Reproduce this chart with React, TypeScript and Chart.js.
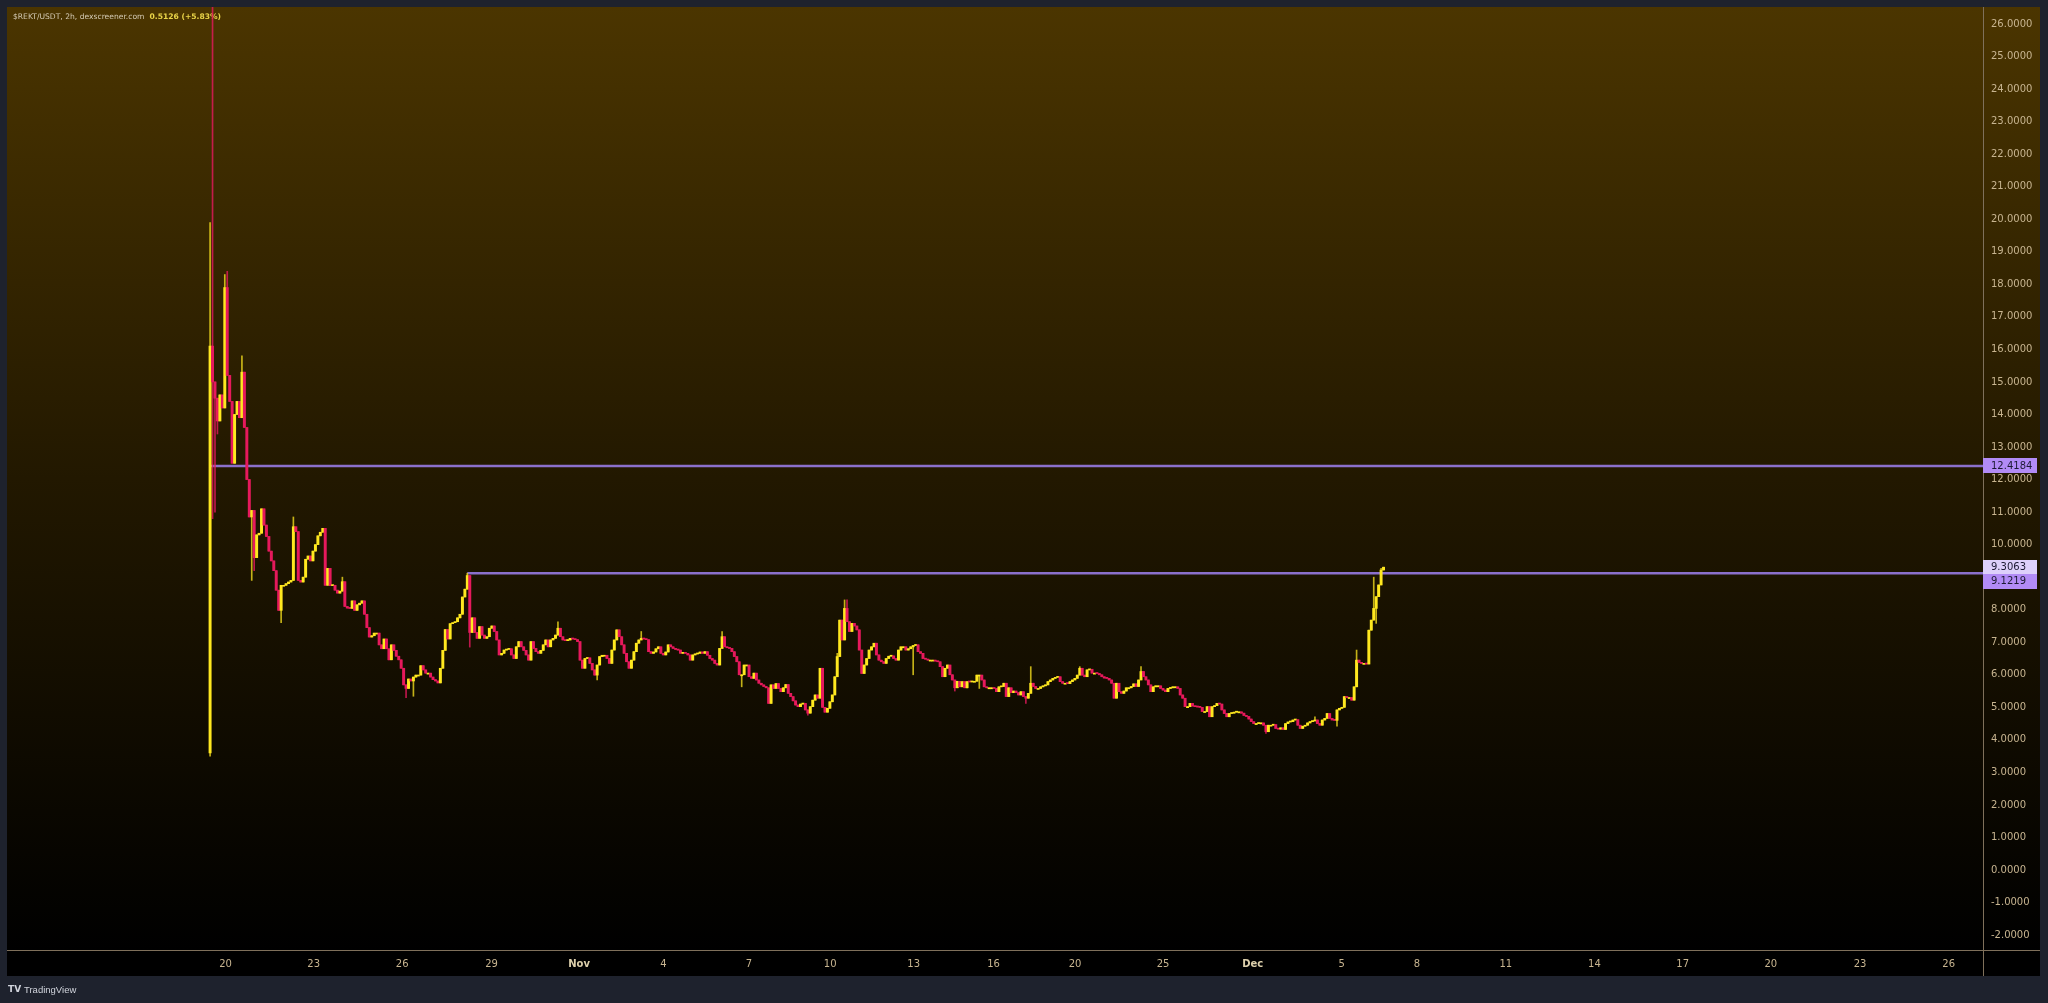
import React, { useEffect, useRef } from "react";
import { Chart, registerables } from "chart.js";

Chart.register(...registerables);

// ---------------- DATA ----------------
const FIRST_OPEN = 3.6;

// closes per 2h candle (bar index 0..105)
const closesOct = [
  16.1, 15.0, 14.5, 13.8, 14.6, 14.2, 17.9, 15.2, 14.4, 12.5,
  14.0, 14.4, 13.9, 15.3, 13.6, 12.0, 10.85, 11.05, 9.6, 10.3,
  10.35, 11.1, 10.6, 10.25, 9.8, 9.5, 9.2, 8.6, 7.98, 8.75,
  8.75, 8.8, 8.85, 8.9, 10.55, 10.4, 8.9, 8.85, 9.0, 9.55,
  9.65, 9.5, 9.8, 10.0, 10.27, 10.38, 10.5, 8.75, 9.27, 8.74,
  8.75, 8.6, 8.51, 8.57, 8.86, 8.1, 8.05, 8.04, 8.27, 7.98,
  8.15, 8.2, 8.27, 7.86, 7.45, 7.16, 7.2, 7.28, 7.28, 6.92,
  6.8, 7.1, 6.8, 6.46, 6.92, 6.75, 6.57, 6.46, 6.2, 5.69,
  5.58, 5.87, 5.81, 5.93, 5.99, 5.99, 6.28, 6.15, 6.05, 6.05,
  5.93, 5.85, 5.81, 5.75, 6.2, 6.75, 7.39, 7.1, 7.57, 7.6,
  7.63, 7.75, 7.86, 8.39, 8.63, 9.05,
];

// bar index 106..265
const closesNovA = [
  7.3, 7.75, 7.3, 7.12,
  7.48, 7.22, 7.12, 7.17, 7.43, 7.5, 7.33, 7.07, 6.61, 6.66,
  6.76, 6.78, 6.8, 6.61, 6.5, 6.86, 7.02, 6.86, 6.75, 6.61,
  6.45, 7.02, 6.81, 6.71, 6.66, 6.75, 6.92, 7.07, 6.86, 7.07,
  7.12, 7.22, 7.43, 7.17, 7.07, 7.05, 7.07, 7.12, 7.1, 7.08,
  7.02, 6.45, 6.2, 6.5, 6.52, 6.35, 6.15, 5.99, 6.3, 6.56,
  6.6, 6.6, 6.5, 6.35, 6.76, 7.07, 7.38, 7.17, 6.92, 6.66,
  6.4, 6.2, 6.45, 6.71, 6.97, 7.07, 7.12, 7.1, 7.08, 6.71,
  6.66, 6.7, 6.8, 6.86, 6.66, 6.61, 6.7, 6.92, 6.86, 6.81,
  6.78, 6.76, 6.66, 6.68, 6.66, 6.61, 6.45, 6.61, 6.64, 6.66,
  6.7, 6.66, 6.71, 6.6, 6.5, 6.45, 6.35, 6.3, 6.81, 7.17,
  6.86, 6.83, 6.81, 6.71, 6.56, 6.4, 6.0, 6.0, 6.3, 6.3,
  5.94, 5.89, 6.05, 5.84, 5.74, 5.69, 5.64, 5.6, 5.12, 5.69,
  5.58, 5.73, 5.58, 5.48, 5.6, 5.7, 5.43, 5.33, 5.2, 5.07,
  5.02, 5.1, 5.12, 4.92, 4.82, 5.02, 5.22, 5.38, 5.28, 6.2,
  5.0, 4.85, 4.97, 5.17, 5.38, 5.94, 6.56, 7.68, 7.07, 8.04,
  7.63, 7.33, 7.58, 7.5, 7.38, 6.76,
];

// bar index 266..420
const closesNovB = [
  6.04, 6.3, 6.5, 6.76,
  6.86, 6.97, 6.61, 6.45, 6.4, 6.35, 6.5, 6.57, 6.58, 6.5,
  6.45, 6.76, 6.86, 6.86, 6.76, 6.8, 6.86, 6.9, 6.92, 6.71,
  6.66, 6.5, 6.48, 6.45, 6.45, 6.45, 6.42, 6.4, 6.25, 5.94,
  6.2, 6.3, 6.0, 5.84, 5.6, 5.8, 5.63, 5.79, 5.6, 5.79,
  5.78, 5.8, 5.8, 5.99, 5.99, 5.84, 5.63, 5.6, 5.6, 5.6,
  5.58, 5.48, 5.63, 5.64, 5.74, 5.33, 5.6, 5.45, 5.5, 5.45,
  5.38, 5.48, 5.33, 5.28, 5.43, 5.74, 5.64, 5.58, 5.58, 5.63,
  5.66, 5.69, 5.79, 5.84, 5.89, 5.92, 5.94, 5.79, 5.74, 5.74,
  5.73, 5.79, 5.84, 5.89, 5.99, 6.2, 5.99, 5.94, 6.15, 6.17,
  6.05, 6.05, 6.04, 6.0, 5.94, 5.9, 5.89, 5.84, 5.74, 5.28,
  5.74, 5.48, 5.43, 5.5, 5.6, 5.6, 5.64, 5.72, 5.64, 5.84,
  6.1, 5.94, 5.84, 5.69, 5.48, 5.63, 5.66, 5.66, 5.58, 5.53,
  5.48, 5.58, 5.6, 5.63, 5.63, 5.58, 5.38, 5.28, 5.02, 5.02,
  5.12, 5.04, 5.02, 5.01, 5.0, 4.87, 4.87, 5.02, 4.71, 5.02,
  5.05, 5.12, 5.1, 4.92, 4.81, 4.71, 4.81, 4.82, 4.85, 4.86,
  4.86,
];

// bar index 421..479
const closesDec = [
  4.82, 4.75, 4.72, 4.64, 4.56, 4.5, 4.5, 4.52, 4.52,
  4.45, 4.25, 4.45, 4.45, 4.47, 4.35, 4.33, 4.37, 4.32, 4.5,
  4.55, 4.56, 4.61, 4.62, 4.45, 4.35, 4.42, 4.45, 4.52, 4.56,
  4.58, 4.61, 4.5, 4.45, 4.61, 4.66, 4.81, 4.66, 4.61, 4.6,
  4.92, 4.97, 5.0, 5.33, 5.3, 5.3, 5.22, 5.63, 6.45, 6.38,
  6.35, 6.35, 6.33, 7.37, 7.68, 8.04, 8.4, 8.76, 9.22, 9.3063,
];

// notable wicks: [bar index, price]
const wickHighs: [number, number][] = [
  [0, 19.9], [1, 40], [6, 18.3], [7, 18.4], [13, 15.8], [34, 10.85],
  [54, 9.0], [105, 9.1219], [142, 7.63], [176, 7.33], [209, 7.33],
  [256, 6.66], [259, 8.3], [260, 8.3], [335, 6.25], [355, 6.25],
  [380, 6.25], [451, 4.71], [468, 6.76], [475, 9.0], [478, 9.27],
];
const wickLows: [number, number][] = [
  [0, 3.5], [1, 10.8], [2, 11.0], [3, 13.4], [17, 8.9], [18, 9.2],
  [29, 7.6], [80, 5.3], [83, 5.34], [106, 6.85], [158, 5.84],
  [217, 5.63], [244, 4.76], [287, 6.0], [304, 5.5], [314, 5.58],
  [333, 5.12], [431, 4.2], [460, 4.42], [476, 7.58],
];

// horizontal level drawings: price and first bar index
const levelPrices = [12.4184, 9.1219];
const levelStarts = [0, 105];
const LAST_PRICE = 9.3063;

// time axis (bar-index positions of the date labels)
const xTickIdx = [6.3, 42.3, 78.4, 114.9, 150.6, 185.1, 220.0, 253.1, 287.2, 319.8,
  353.1, 389.0, 425.6, 461.9, 492.6, 528.9, 565.1, 601.1, 637.1, 673.5, 709.7];
const xTickLabels = ["20", "23", "26", "29", "Nov", "4", "7", "10", "13", "16",
  "20", "25", "Dec", "5", "8", "11", "14", "17", "20", "23", "26"];
const yTicks = [-2, -1, 0, 1, 2, 3, 4, 5, 6, 7, 8, 9, 10, 11, 12, 13, 14, 15,
  16, 17, 18, 19, 20, 21, 22, 23, 24, 25, 26];

const TITLE = "$REKT/USDT, 2h, dexscreener.com";
const TITLE_PRICE = "0.5126 (+5.83%)";

// ---------------- STYLE ----------------
const X_MIN = -82.9;
const X_MAX = 723.7;
const Y_MIN = -2.458;
const Y_MAX = 26.522;
const UP = "#ffe81f";
const DOWN = "#e6195c";
const UP_WICK = "rgba(255,232,31,0.75)";
const DOWN_WICK = "rgba(230,25,92,0.8)";
const LEVEL = "#8b70cc";
const FRAME = "#1e222d";
const AXIS_TEXT = "#c8b590";
const FONT = '"DejaVu Sans", sans-serif';

export default function App() {
  const ref = useRef<HTMLCanvasElement>(null);

  useEffect(() => {
    document.body.style.margin = "0";
    document.body.style.background = FRAME;
    const canvas = ref.current;
    if (!canvas) return;

    const closes = [...closesOct, ...closesNovA, ...closesNovB, ...closesDec];
    const opens = closes.map((c, i) => (i === 0 ? FIRST_OPEN : closes[i - 1]));
    const highs = closes.map((c, i) => Math.max(c, opens[i]));
    const lows = closes.map((c, i) => Math.min(c, opens[i]));
    wickHighs.forEach(([i, v]) => { highs[i] = Math.max(highs[i], v); });
    wickLows.forEach(([i, v]) => { lows[i] = Math.min(lows[i], v); });
    const up = closes.map((c, i) => c >= opens[i]);

    const bodyData = closes.map((c, i) => ({ x: i, y: [opens[i], c] }));
    const wickData = closes.map((c, i) => ({ x: i, y: [lows[i], highs[i]] }));

    const framePlugin = {
      id: "tvFrame",
      beforeDraw(chart: any) {
        const { ctx, chartArea } = chart;
        const ys = chart.scales.y;
        const xs = chart.scales.x;
        ctx.save();
        ctx.fillStyle = FRAME;
        ctx.fillRect(0, 0, chart.width, chart.height);
        const L = chartArea.left, R = ys.right, T = chartArea.top, B = chartArea.bottom;
        const g = ctx.createLinearGradient(0, T, 0, B);
        g.addColorStop(0, "#4b3500");
        g.addColorStop(0.5, "#221800");
        g.addColorStop(1, "#000000");
        ctx.fillStyle = g;
        ctx.fillRect(L, T, R - L, B - T);
        ctx.fillStyle = "#000000";
        ctx.fillRect(L, B, R - L, xs.bottom - B);
        // separators
        ctx.fillStyle = "#7f705b";
        ctx.fillRect(chartArea.right, T, 1, xs.bottom - T);
        ctx.fillRect(L, B, R - L, 1);
        ctx.restore();
      },
      beforeDatasetsDraw(chart: any) {
        const { ctx } = chart;
        ctx.save();
        ctx.textBaseline = "middle";
        ctx.textAlign = "left";
        ctx.font = `7.6px ${FONT}`;
        ctx.fillStyle = "#d3c9b2";
        ctx.fillText(TITLE, 13, 17);
        const w = ctx.measureText(TITLE).width;
        ctx.font = `bold 7.6px ${FONT}`;
        ctx.fillStyle = "#e9d448";
        ctx.fillText(TITLE_PRICE, 13 + w + 5, 17);
        ctx.restore();
      },
      afterDraw(chart: any) {
        const { ctx, chartArea } = chart;
        const ys = chart.scales.y;
        ctx.save();
        ctx.font = `10px ${FONT}`;
        ctx.textBaseline = "middle";
        ctx.textAlign = "left";
        const boxX = chartArea.right;
        const boxW = 54;
        const drawBox = (cy: number, text: string, bg: string) => {
          ctx.fillStyle = bg;
          ctx.fillRect(boxX, Math.round(cy - 7.5), boxW, 15);
          ctx.fillStyle = "#1c1a33";
          ctx.fillText(text, boxX + 8, cy + 0.5);
        };
        const yHi = ys.getPixelForValue(levelPrices[0]);
        drawBox(yHi, levelPrices[0].toFixed(4), "#b28bf6");
        const yLast = ys.getPixelForValue(LAST_PRICE);
        const yLow = Math.max(ys.getPixelForValue(levelPrices[1]), yLast + 14);
        drawBox(yLast, LAST_PRICE.toFixed(4), "#ddd0fb");
        drawBox(yLow, levelPrices[1].toFixed(4), "#b28bf6");
        // TradingView logo
        ctx.fillStyle = "#d1d4dc";
        ctx.font = `bold 9px ${FONT}`;
        ctx.fillText("TV", 8, 990);
        ctx.font = `9.5px "Liberation Sans", sans-serif`;
        ctx.fillText("TradingView", 24, 990);
        ctx.restore();
      },
    };

    const levelDatasets = levelPrices.map((p, k) => ({
      type: "line" as const,
      data: [{ x: levelStarts[k], y: p }, { x: X_MAX, y: p }],
      borderColor: LEVEL,
      borderWidth: 2.5,
      pointRadius: 0,
      order: 3,
    }));

    const chart = new Chart(canvas, {
      type: "bar",
      data: {
        datasets: [
          {
            type: "bar",
            data: bodyData as any,
            backgroundColor: up.map((u) => (u ? UP : DOWN)),
            barThickness: 2.3,
            minBarLength: 1,
            grouped: false,
            borderWidth: 0,
            order: 1,
          },
          {
            type: "bar",
            data: wickData as any,
            backgroundColor: up.map((u) => (u ? UP_WICK : DOWN_WICK)),
            barThickness: 1,
            grouped: false,
            borderWidth: 0,
            order: 2,
          },
          ...(levelDatasets as any),
        ],
      },
      options: {
        animation: false,
        responsive: false,
        maintainAspectRatio: false,
        devicePixelRatio: 1,
        events: [],
        layout: { padding: { left: 7, top: 7, right: 8, bottom: 27 } },
        plugins: { legend: { display: false }, tooltip: { enabled: false } },
        scales: {
          x: {
            type: "linear",
            min: X_MIN,
            max: X_MAX,
            offset: false,
            grid: { display: false, drawTicks: false },
            border: { display: false },
            afterBuildTicks: (axis: any) => {
              axis.ticks = xTickIdx.map((v) => ({ value: v }));
            },
            afterFit: (axis: any) => {
              axis.height = 26;
              axis.paddingLeft = 0;
              axis.paddingRight = 0;
            },
            ticks: {
              autoSkip: false,
              maxRotation: 0,
              padding: 8,
              callback: (_v: any, i: number) => xTickLabels[i],
              color: (c: any) => (xTickLabels[c.index] === "Nov" || xTickLabels[c.index] === "Dec" ? "#ddd0ac" : AXIS_TEXT),
              font: (c: any) => ({
                family: FONT,
                size: 10,
                weight: xTickLabels[c.index] === "Nov" || xTickLabels[c.index] === "Dec" ? "bold" : "normal",
              }),
            },
          },
          y: {
            type: "linear",
            position: "right",
            min: Y_MIN,
            max: Y_MAX,
            grid: { display: false, drawTicks: false },
            border: { display: false },
            afterBuildTicks: (axis: any) => {
              axis.ticks = yTicks.map((v) => ({ value: v }));
            },
            afterFit: (axis: any) => {
              axis.width = 57;
              axis.paddingTop = 0;
              axis.paddingBottom = 0;
            },
            ticks: {
              padding: 8,
              color: AXIS_TEXT,
              font: { family: FONT, size: 10 },
              callback: (v: any) => Number(v).toFixed(4),
            },
          },
        },
      } as any,
      plugins: [framePlugin],
    });

    return () => chart.destroy();
  }, []);

  return (
    <canvas
      ref={ref}
      width={2048}
      height={1003}
      style={{ display: "block", width: 2048, height: 1003 }}
    />
  );
}
